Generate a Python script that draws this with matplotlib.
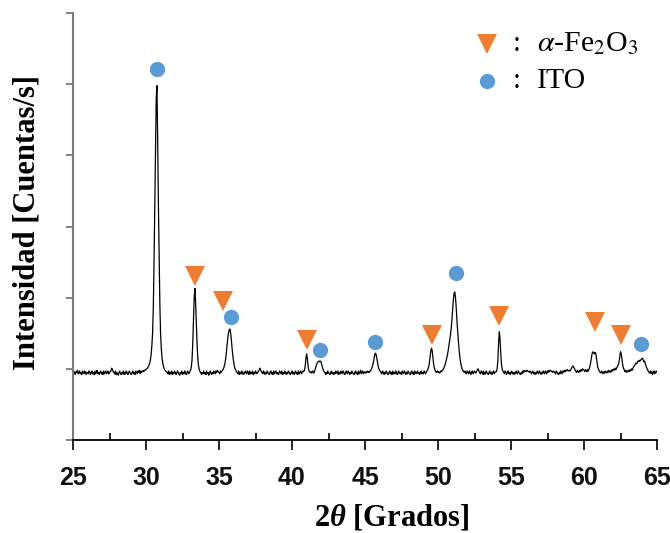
import numpy as np
import matplotlib
matplotlib.use("Agg")
import matplotlib.pyplot as plt

# ---------------- data ----------------
two_theta_start = 25.0
two_theta_step = 0.05
intensity = [
    # 25
    94, 97, 95, 92, 96, 95, 98, 93, 95, 97, 93, 95, 92, 97, 95, 93, 97, 95, 92, 95,
    # 26
    95, 93, 97, 95, 92, 95, 97, 93, 95, 92, 97, 93, 95, 98, 93, 95, 92, 95, 97, 93,
    # 27
    95, 92, 97, 93, 95, 97, 93, 95, 97, 93, 95, 96, 97, 101, 99, 96, 95, 93, 97, 92,
    # 28
    95, 93, 91, 95, 97, 93, 92, 95, 93, 97, 92, 95, 93, 97, 95, 92, 93, 97, 95, 93,
    # 29
    92, 95, 97, 93, 95, 92, 97, 95, 93, 97, 95, 98, 93, 97, 95, 97, 96, 98, 97, 99,
    # 30
    99, 100, 101, 103, 105, 108, 112, 120, 132, 150, 185, 250, 330, 410, 480, 498, 420, 330, 255, 190,
    # 31
    148, 128, 115, 108, 103, 100, 98, 97, 96, 95, 93, 97, 92, 95, 93, 97, 92, 95, 93, 97,
    # 32
    95, 92, 93, 97, 95, 93, 91, 95, 93, 97, 92, 95, 93, 97, 95, 92, 93, 97, 95, 93,
    # 33
    96, 98, 102, 112, 134, 168, 200, 213, 192, 163, 134, 114, 104, 99, 96, 95, 92, 95, 93, 97,
    # 34
    93, 95, 92, 97, 93, 95, 91, 93, 97, 95, 92, 95, 93, 97, 95, 93, 97, 95, 98, 96,
    # 35
    95, 93, 97, 95, 97, 98, 100, 103, 107, 113, 122, 133, 143, 150, 155, 156, 150, 140, 128, 118,
    # 36
    110, 104, 100, 98, 96, 95, 93, 97, 92, 95, 93, 97, 95, 92, 95, 93, 97, 95, 93, 97,
    # 37
    95, 92, 97, 93, 95, 93, 97, 92, 95, 93, 97, 95, 93, 95, 97, 98, 101, 99, 96, 95,
    # 38
    93, 97, 95, 92, 95, 93, 97, 95, 93, 92, 95, 97, 93, 95, 92, 97, 93, 95, 97, 93,
    # 39
    95, 92, 93, 97, 95, 93, 97, 92, 95, 93, 97, 95, 92, 95, 93, 97, 95, 93, 92, 95,
    # 40
    97, 93, 95, 92, 95, 97, 93, 95, 92, 97, 93, 95, 97, 93, 95, 97, 96, 98, 103, 114,
    # 41
    121, 115, 104, 98, 96, 95, 96, 94, 97, 96, 94, 97, 100, 104, 107, 109, 110, 111, 110, 111,
    # 42
    109, 105, 101, 98, 96, 95, 92, 95, 93, 97, 95, 93, 92, 95, 97, 93, 95, 92, 95, 93,
    # 43
    97, 95, 93, 97, 92, 95, 93, 97, 95, 93, 97, 95, 92, 93, 97, 95, 93, 97, 95, 92,
    # 44
    95, 93, 97, 95, 93, 92, 95, 97, 93, 95, 92, 97, 93, 95, 98, 93, 95, 97, 93, 95,
    # 45
    96, 94, 95, 97, 95, 96, 95, 97, 98, 100, 103, 107, 112, 118, 122, 121, 116, 110, 104, 100,
    # 46
    98, 96, 95, 93, 97, 95, 92, 95, 93, 97, 95, 93, 92, 95, 97, 93, 95, 92, 97, 93,
    # 47
    95, 93, 97, 95, 92, 93, 97, 95, 93, 95, 92, 97, 95, 93, 97, 95, 92, 95, 93, 97,
    # 48
    95, 93, 92, 95, 97, 93, 95, 92, 97, 95, 93, 95, 97, 93, 95, 92, 95, 97, 93, 95,
    # 49
    93, 97, 95, 93, 96, 97, 99, 102, 107, 115, 124, 129, 126, 117, 107, 101, 98, 96, 95, 97,
    # 50
    95, 96, 94, 95, 97, 96, 98, 99, 101, 104, 107, 111, 115, 120, 126, 133, 140, 147, 156, 168,
    # 51
    183, 197, 206, 208, 200, 185, 167, 152, 138, 126, 116, 109, 104, 100, 98, 96, 95, 97, 94, 93,
    # 52
    97, 95, 93, 97, 95, 92, 95, 97, 93, 95, 97, 95, 94, 97, 99, 100, 97, 95, 93, 97,
    # 53
    95, 93, 97, 92, 95, 93, 97, 95, 93, 92, 95, 97, 93, 95, 92, 95, 97, 93, 95, 96,
    # 54
    96, 100, 112, 137, 152, 142, 121, 106, 99, 97, 95, 93, 97, 95, 92, 95, 97, 93, 95, 92,
    # 55
    95, 97, 93, 95, 92, 95, 93, 97, 95, 93, 97, 95, 93, 92, 95, 93, 97, 95, 98, 96,
    # 56
    97, 96, 98, 97, 96, 95, 97, 96, 93, 95, 97, 93, 95, 92, 95, 93, 97, 95, 93, 97,
    # 57
    95, 92, 95, 93, 97, 95, 93, 97, 95, 93, 97, 95, 98, 96, 98, 97, 96, 95, 97, 96,
    # 58
    95, 93, 97, 95, 93, 92, 95, 93, 97, 95, 93, 97, 95, 98, 96, 98, 97, 99, 98, 97,
    # 59
    98, 97, 99, 101, 103, 104, 102, 100, 98, 96, 95, 98, 96, 95, 98, 96, 99, 97, 100, 99,
    # 60
    98, 96, 99, 97, 96, 99, 97, 100, 103, 108, 115, 121, 124, 123, 121, 123, 122, 116, 108, 102,
    # 61
    99, 97, 95, 94, 97, 95, 93, 96, 94, 97, 95, 94, 97, 95, 98, 96, 95, 98, 96, 99,
    # 62
    98, 100, 98, 101, 99, 102, 103, 106, 110, 117, 124, 121, 113, 106, 101, 99, 96, 98, 95, 97,
    # 63
    96, 98, 96, 99, 97, 100, 98, 101, 103, 104, 106, 108, 107, 109, 111, 110, 112, 111, 113, 114,
    # 64
    115, 113, 110, 111, 107, 104, 101, 99, 97, 95, 94, 97, 93, 96, 92, 95, 97, 93, 95, 97,
    # 65
    95,
]
two_theta = two_theta_start + two_theta_step * np.arange(len(intensity))

# phase markers (peak positions and marker heights)
fe2o3_pos = [33.35, 35.27, 41.03, 49.6, 54.2, 60.75, 62.5]
fe2o3_y = [230, 195, 140, 147, 174, 166, 147]
ito_pos = [30.75, 35.8, 41.9, 45.7, 51.2, 63.9]
ito_y = [521, 173, 126, 138, 235, 135]

x_ticks = [25, 30, 35, 40, 45, 50, 55, 60, 65]
x_tick_labels = ["25", "30", "35", "40", "45", "50", "55", "60", "65"]
y_ticks = [0, 100, 200, 300, 400, 500, 600]

legend_labels = [r"$\alpha$-Fe$_2$O$_3$", "ITO"]

ORANGE = "#ED7D31"
BLUE = "#5B9BD5"

# ---------------- figure ----------------
plt.rcParams["mathtext.fontset"] = "custom"
plt.rcParams["mathtext.rm"] = "Liberation Serif:bold"
plt.rcParams["mathtext.it"] = "Liberation Serif:italic:bold"
plt.rcParams["mathtext.bf"] = "Liberation Serif:bold"

fig = plt.figure(figsize=(6.70, 5.33), dpi=100)
ax = fig.add_axes([73 / 670, 1 - 440 / 533, (657 - 73) / 670, (440 - 13) / 533])

ax.plot(two_theta, intensity, color="black", lw=0.9, zorder=2)
ax.plot(fe2o3_pos, fe2o3_y, linestyle="none", marker="v", markersize=15,
        color=ORANGE, markeredgewidth=0, zorder=3)
ax.plot(ito_pos, ito_y, linestyle="none", marker="o", markersize=11,
        color=BLUE, markeredgewidth=0, zorder=3)

ax.set_xlim(25, 65)
ax.set_ylim(0, 600)
ax.set_xticks(x_ticks)
ax.set_xticklabels(x_tick_labels, family=["Liberation Sans Narrow", "Liberation Sans"],
                   fontweight="bold", fontsize=18, color="#111111")
ax.set_xticks(np.arange(27.5, 65, 5), minor=True)
ax.set_yticks(y_ticks)
ax.set_yticklabels([])

for s in ["top", "right"]:
    ax.spines[s].set_visible(False)
ax.spines["left"].set_color("#7a7a7a")
ax.spines["left"].set_linewidth(1.5)
ax.spines["bottom"].set_color("black")
ax.spines["bottom"].set_linewidth(1.3)

ax.tick_params(axis="x", which="major", direction="out", length=7, width=1.2,
               color="black", pad=12)
ax.tick_params(axis="x", which="minor", direction="in", length=5, width=1.2,
               color="black")
ax.tick_params(axis="y", which="major", direction="out", length=5, width=1.3,
               color="#7a7a7a")

# axis titles
fig.text(27 / 670, 1 - 222 / 533, "Intensidad [Cuentas/s]", rotation=90,
         ha="center", va="center", family="Liberation Serif", fontweight="bold",
         fontsize=22)
fig.text(392 / 670, 1 - 526 / 533, r"2$\theta$ [Grados]", ha="center",
         va="baseline", family="Liberation Serif", fontweight="bold", fontsize=22)

# custom legend
lx = 53.36
ax.plot([lx], [557], linestyle="none", marker="v", markersize=15, color=ORANGE,
        markeredgewidth=0, clip_on=False)
ax.plot([lx], [505], linestyle="none", marker="o", markersize=11, color=BLUE,
        markeredgewidth=0, clip_on=False)
for yy, lab in zip([557, 505], legend_labels):
    ax.text(55.4, yy, ":", ha="center", va="center", family="Liberation Serif",
            fontsize=21)
    ax.text(56.75, yy, lab, ha="left", va="center", family="Liberation Serif",
            fontsize=21.5, math_fontfamily="stix")

fig.savefig("out.png", dpi=100)
